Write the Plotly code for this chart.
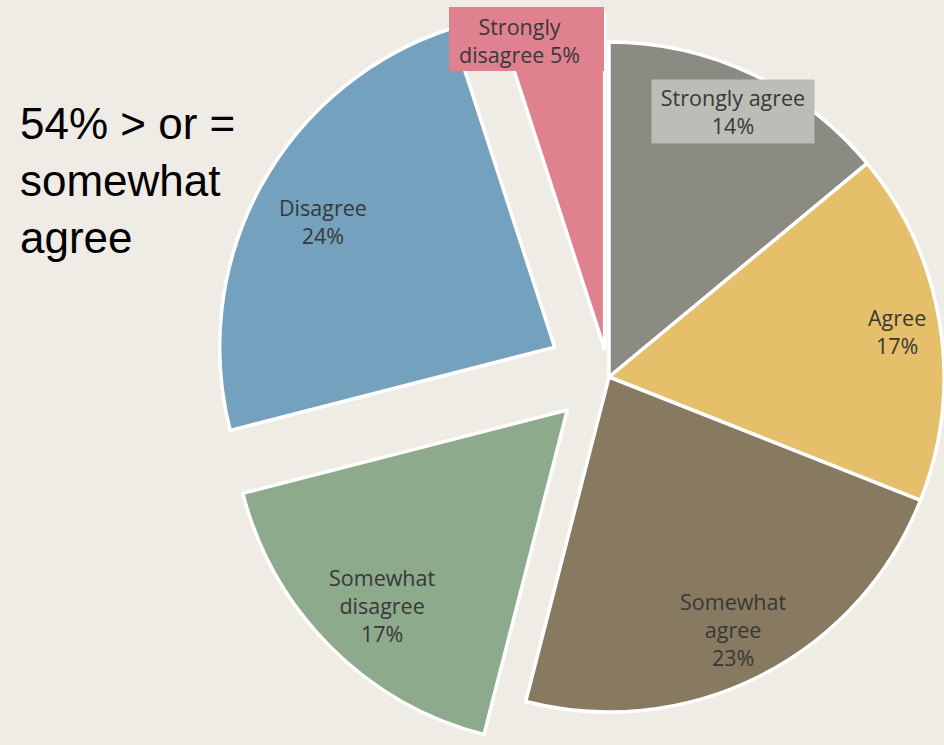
import math
import plotly.graph_objects as go

# ---------------- data ----------------
categories = ["Strongly agree", "Agree", "Somewhat agree",
              "Somewhat disagree", "Disagree", "Strongly disagree"]
values = [14, 17, 23, 17, 24, 5]
label_names = ["Strongly agree", "Agree", "Somewhat<br>agree",
               "Somewhat<br>disagree", "Disagree", "Strongly<br>disagree"]
label_sep = ["<br>", "<br>", "<br>", "<br>", "<br>", " "]
side_note = "54% > or =<br>somewhat<br>agree"

# ---------------- style / layout ----------------
slice_colors = ["#8B8B84", "#E5BF69", "#877A60", "#8DAA8C", "#74A1BD", "#E08190"]
explode_px = [0, 0, 0, 59, 62, 28]          # how far each slice is pulled out
label_xy = [(733, 112), (897, 331), (733, 629), (382, 605), (323, 221), (519, 40)]
label_bg = ["#BDBDB7", None, None, None, None, None]

W, H = 944, 745
R = 335
CX, CY = 609, 377
BG = "#EFECE5"

total = float(sum(values))
mid_angle = []
acc = 0.0
for v in values:
    mid_angle.append(2 * math.pi * (acc + v / 2.0) / total)
    acc += v

# group slices: all non-exploded together, exploded ones individually
groups = [[i for i, d in enumerate(explode_px) if d == 0]]
groups += [[i] for i, d in enumerate(explode_px) if d != 0]

fig = go.Figure()
for g in groups:
    d = explode_px[g[0]] if len(g) == 1 else 0
    th = mid_angle[g[0]]
    cx = CX + math.sin(th) * d
    cy = CY - math.cos(th) * d
    cx = min(max(cx, R), W - R)
    cy = min(max(cy, R), H - R)
    dx = [max(0.0, (cx - R) / W), min(1.0, (cx + R) / W)]
    dy = [max(0.0, 1 - (cy + R) / H), min(1.0, 1 - (cy - R) / H)]
    fig.add_trace(go.Pie(
        labels=categories, values=values, sort=False,
        direction="clockwise", rotation=0,
        marker=dict(
            colors=[slice_colors[i] if i in g else "rgba(0,0,0,0)" for i in range(len(values))],
            line=dict(color="white", width=[3.5 if i in g else 0 for i in range(len(values))]),
        ),
        textinfo="none", hoverinfo="skip", showlegend=False,
        domain=dict(x=dx, y=dy),
    ))

annotations = []
for i, (name, v) in enumerate(zip(label_names, values)):
    x, y = label_xy[i]
    a = dict(
        x=x / W, y=1 - y / H, xref="paper", yref="paper",
        xanchor="center", yanchor="middle", showarrow=False,
        text=f"{name}{label_sep[i]}{v}%", align="center",
        font=dict(family="Open Sans", size=21.5, color="#383838"),
    )
    if label_bg[i]:
        a.update(bgcolor=label_bg[i], width=154, height=55, borderpad=4)
    annotations.append(a)

annotations.append(dict(
    x=18 / W, y=1 - 180 / H, xref="paper", yref="paper",
    xanchor="left", yanchor="middle", showarrow=False, align="left",
    text=side_note,
    font=dict(family="Liberation Sans", size=44, color="#000000"),
))

shapes = [dict(
    type="rect", xref="paper", yref="paper", layer="above",
    x0=449 / W, x1=604 / W, y0=1 - 71 / H, y1=1 - 7 / H,
    fillcolor=slice_colors[5], line=dict(width=0),
)]

fig.update_layout(
    width=W, height=H,
    margin=dict(l=0, r=0, t=0, b=0),
    paper_bgcolor=BG, plot_bgcolor=BG,
    annotations=annotations, shapes=shapes,
)

fig.write_html("out.html")
